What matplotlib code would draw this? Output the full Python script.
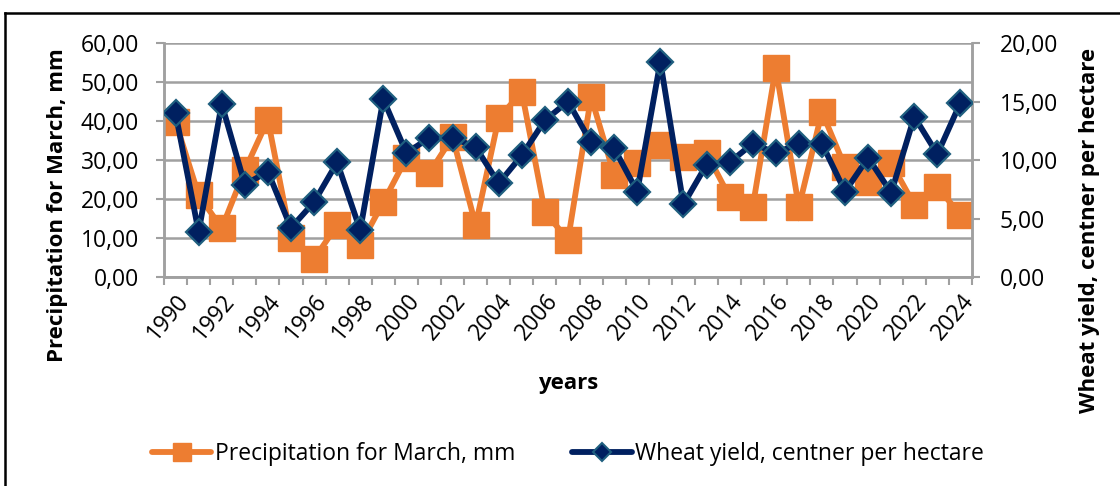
import matplotlib
matplotlib.use("Agg")
import matplotlib.pyplot as plt
from matplotlib.lines import Line2D
from matplotlib.ticker import FuncFormatter, MultipleLocator, FixedLocator
import numpy as np

years = list(range(1990, 2025))
precip = [39.8, 21.0, 12.5, 27.4, 40.3, 10.0, 4.6, 13.3, 8.2, 19.2,
          30.5, 26.7, 35.9, 13.3, 40.8, 47.4, 16.7, 9.5, 46.2, 26.2,
          29.2, 33.8, 30.8, 31.8, 20.5, 17.9, 53.6, 17.9, 42.3, 28.2,
          24.4, 29.2, 18.5, 23.1, 15.9]
wheat = [14.0, 3.85, 14.8, 7.9, 9.0, 4.2, 6.4, 9.8, 4.0, 15.2,
         10.6, 11.9, 11.9, 11.1, 8.0, 10.4, 13.4, 15.0, 11.5, 11.0,
         7.3, 18.4, 6.2, 9.6, 9.8, 11.4, 10.6, 11.4, 11.4, 7.3,
         10.2, 7.2, 13.7, 10.5, 14.9]
label_precip = "Precipitation for March, mm"
label_wheat = "Wheat yield, centner per hectare"

ORANGE = "#ED7D31"
NAVY = "#002060"
TEAL = "#1F5F7F"
GRID = "#A0A0A0"

plt.rcParams['font.family'] = ['Open Sans', 'DejaVu Sans']

W, H = 1120, 486
fig = plt.figure(figsize=(W / 100, H / 100), dpi=100)
L, R, T, B = 164, 972, 43, 277
ax = fig.add_axes([L / W, 1 - B / H, (R - L) / W, (B - T) / H])
ax2 = ax.twinx()

x = np.arange(len(years))
ax.plot(x, precip, color=ORANGE, lw=4.2, marker='s', ms=18.5,
        mfc=ORANGE, mec=ORANGE, zorder=3, solid_joinstyle='miter')
ax2.plot(x, wheat, color=NAVY, lw=4.2, marker='D', ms=13.5,
         mfc=NAVY, mec=TEAL, mew=1.6, zorder=3)

ax.set_xlim(-0.5, len(years) - 0.5)
ax.set_ylim(0, 60)
ax2.set_ylim(0, 20)
ax.yaxis.set_major_locator(MultipleLocator(10))
ax2.yaxis.set_major_locator(MultipleLocator(5))
fmt = FuncFormatter(lambda v, p: f"{v:.2f}".replace('.', ','))
ax.yaxis.set_major_formatter(fmt)
ax2.yaxis.set_major_formatter(fmt)

FS = 16.5
ax.xaxis.set_major_locator(FixedLocator(x[::2]))
ax.set_xticklabels([str(y) for y in years[::2]], rotation=50,
                   ha='right', va='top', rotation_mode='anchor')
ax.xaxis.set_minor_locator(FixedLocator(np.arange(-0.5, len(years), 1.0)))
ax.tick_params(axis='x', which='major', length=0, pad=9, labelsize=FS)
ax.tick_params(axis='x', which='minor', length=6, width=1.5, color=GRID)
ax.tick_params(axis='y', length=6, width=1.5, color=GRID, labelsize=FS, pad=12)
ax2.tick_params(axis='y', length=6, width=1.5, color=GRID, labelsize=FS, pad=14)

ax.grid(axis='y', color=GRID, lw=1.8)
ax.set_axisbelow(True)
for a in (ax, ax2):
    a.spines['top'].set_visible(False)
    for s in ('left', 'right', 'bottom'):
        a.spines[s].set_color(GRID)
        a.spines[s].set_linewidth(1.8)

TFS = 16
fig.text(568 / W, 1 - 383 / H, "years", ha='center', va='center',
         fontsize=TFS, fontweight='bold')
fig.text(58 / W, 1 - 205 / H, label_precip, ha='center', va='center',
         rotation=90, fontsize=TFS, fontweight='bold')
fig.text(1090 / W, 1 - 230 / H, label_wheat, ha='center', va='center',
         rotation=90, fontsize=TFS, fontweight='bold')

h1 = Line2D([], [], color=ORANGE, lw=4.2, marker='s', ms=13,
            mfc=ORANGE, mec=ORANGE, solid_capstyle='round')
h2 = Line2D([], [], color=NAVY, lw=4.2, marker='D', ms=9.5,
            mfc=NAVY, mec=TEAL, mew=1.5, solid_capstyle='round')
fig.legend([h1, h2], [label_precip, label_wheat], loc='center',
           bbox_to_anchor=(568 / W, 1 - 454 / H), ncol=2, frameon=False,
           fontsize=FS, handlelength=2.6, handletextpad=0.15,
           columnspacing=2.5)

# outer chart border (top and left visible)
fig.add_artist(Line2D([5 / W, 1.0], [1 - 13 / H, 1 - 13 / H],
                      transform=fig.transFigure, color='black', lw=1.8))
fig.add_artist(Line2D([5 / W, 5 / W], [0, 1 - 13 / H],
                      transform=fig.transFigure, color='black', lw=1.8))

fig.savefig("out.png", dpi=100)
